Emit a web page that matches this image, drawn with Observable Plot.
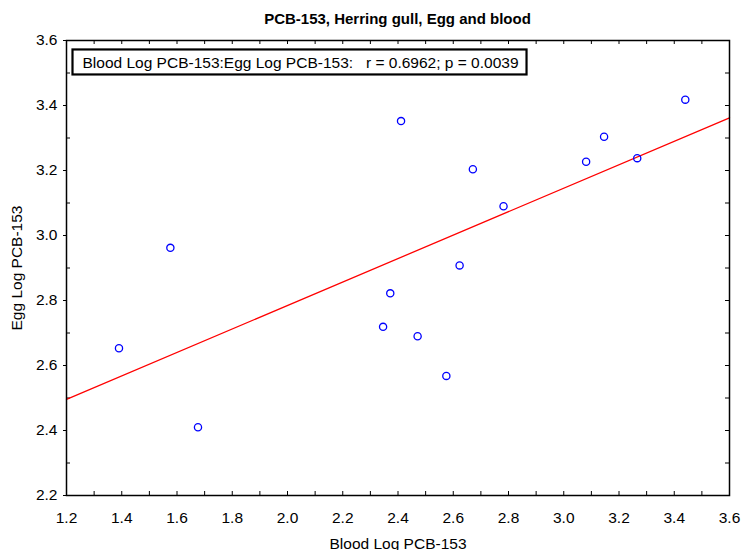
<!DOCTYPE html>
<html>
<head>
<meta charset="utf-8">
<script src="https://cdn.jsdelivr.net/npm/d3@7"></script>
<script src="https://cdn.jsdelivr.net/npm/@observablehq/plot@0.6"></script>
<style>
  html, body { margin: 0; padding: 0; background: #fff; }
  #title { width: 741px; height: 28px; box-sizing: border-box; padding-top: 10px; padding-left: 66px; padding-right: 12px;
           text-align: center; font: bold 15px "Liberation Sans", Arial, sans-serif; line-height: 18px; color: #000; white-space: nowrap; }
  svg { white-space: pre; overflow: visible; }
</style>
</head>
<body>
<div id="title">PCB-153, Herring gull, Egg and blood</div>
<div id="chart"></div>
<script>
// Data
const bloodLog = [1.390, 1.576, 1.676, 2.411, 2.346, 2.372, 2.471, 2.575, 2.623, 2.671, 2.782, 3.081, 3.146, 3.266, 3.440];
const eggLog   = [2.653, 2.962, 2.410, 3.352, 2.719, 2.822, 2.690, 2.568, 2.908, 3.204, 3.090, 3.227, 3.304, 3.238, 3.418];
// Fitted line end points
const fitX = [1.2, 3.6];
const fitY = [2.496, 3.362];
const xTicks = [1.2, 1.4, 1.6, 1.8, 2.0, 2.2, 2.4, 2.6, 2.8, 3.0, 3.2, 3.4, 3.6];
const yTicks = [2.2, 2.4, 2.6, 2.8, 3.0, 3.2, 3.4, 3.6];
const xMinor = d3.range(13, 36).map(d => d / 10);
const yMinor = d3.range(23, 36).map(d => d / 10);
const annotation = "Blood Log PCB-153:Egg Log PCB-153:   r = 0.6962; p = 0.0039";
const xLabel = "Blood Log PCB-153";
const yLabel = "Egg Log PCB-153";

const points = bloodLog.map((x, i) => ({x, y: eggLog[i]}));
const fit = fitX.map((x, i) => ({x, y: fitY[i]}));

const W = 741, H = 522;
const mL = 66, mR = 12, mT = 12, mB = 55;
const fw = W - mL - mR, fh = H - mT - mB;
const tk = 4;

const chart = Plot.plot({
  width: W, height: H,
  marginLeft: mL, marginRight: mR, marginTop: mT, marginBottom: mB,
  style: {fontFamily: '"Liberation Sans", Arial, sans-serif', fontSize: "15.5px", color: "#000", background: "#fff", overflow: "visible"},
  x: {domain: [1.2, 3.6]},
  y: {domain: [2.2, 3.6]},
  marks: [
    Plot.axisX(xTicks, {anchor: "bottom", tickSize: 0, tickPadding: 16, tickFormat: d3.format(".1f"), fontSize: 15.5,
      label: xLabel, labelAnchor: "center", labelArrow: "none", labelOffset: 53}),
    Plot.axisY(yTicks, {anchor: "left", tickSize: 3, tickPadding: 6, tickFormat: d3.format(".1f"), fontSize: 15.5,
      label: yLabel, labelAnchor: "center", labelArrow: "none", labelOffset: 56}),
    // inward ticks
    Plot.tickX(xMinor, {x: d => d, insetTop: fh - tk, stroke: "#000"}),
    Plot.tickX(xMinor, {x: d => d, insetBottom: fh - tk, stroke: "#000"}),
    Plot.tickY(yMinor.filter(d => Math.round(d * 10) % 2 === 1), {y: d => d, insetRight: fw - tk, stroke: "#000"}),
    Plot.tickY(yMinor, {y: d => d, insetLeft: fw - tk, stroke: "#000"}),
    Plot.line(fit, {x: "x", y: "y", stroke: "#ff0000", strokeWidth: 1.3}),
    Plot.dot(points, {x: "x", y: "y", r: 3.6, stroke: "#0000ff", strokeWidth: 1.3, fill: "none"}),
    Plot.frame({stroke: "#000", strokeWidth: 1.5}),
    Plot.text([annotation], {frameAnchor: "top-left", dx: 16, dy: 23, text: d => d, textAnchor: "start",
      lineAnchor: "middle", fontSize: 15.5, fill: "#000", className: "annot"})
  ]
});
document.getElementById("chart").appendChild(chart);

// box around the annotation
const t = chart.querySelector("g.annot text") || chart.querySelector(".annot text");
if (t) {
  const bb = t.getBBox();
  const g = t.parentNode;
  const rect = document.createElementNS("http://www.w3.org/2000/svg", "rect");
  rect.setAttribute("x", bb.x - 10);
  rect.setAttribute("y", bb.y - 5);
  rect.setAttribute("width", bb.width + 18);
  rect.setAttribute("height", bb.height + 8);
  rect.setAttribute("fill", "#fff");
  rect.setAttribute("stroke", "#000");
  rect.setAttribute("stroke-width", 2.2);
  const tr = t.getAttribute("transform");
  if (tr) rect.setAttribute("transform", tr);
  g.insertBefore(rect, t);
}
</script>
</body>
</html>
